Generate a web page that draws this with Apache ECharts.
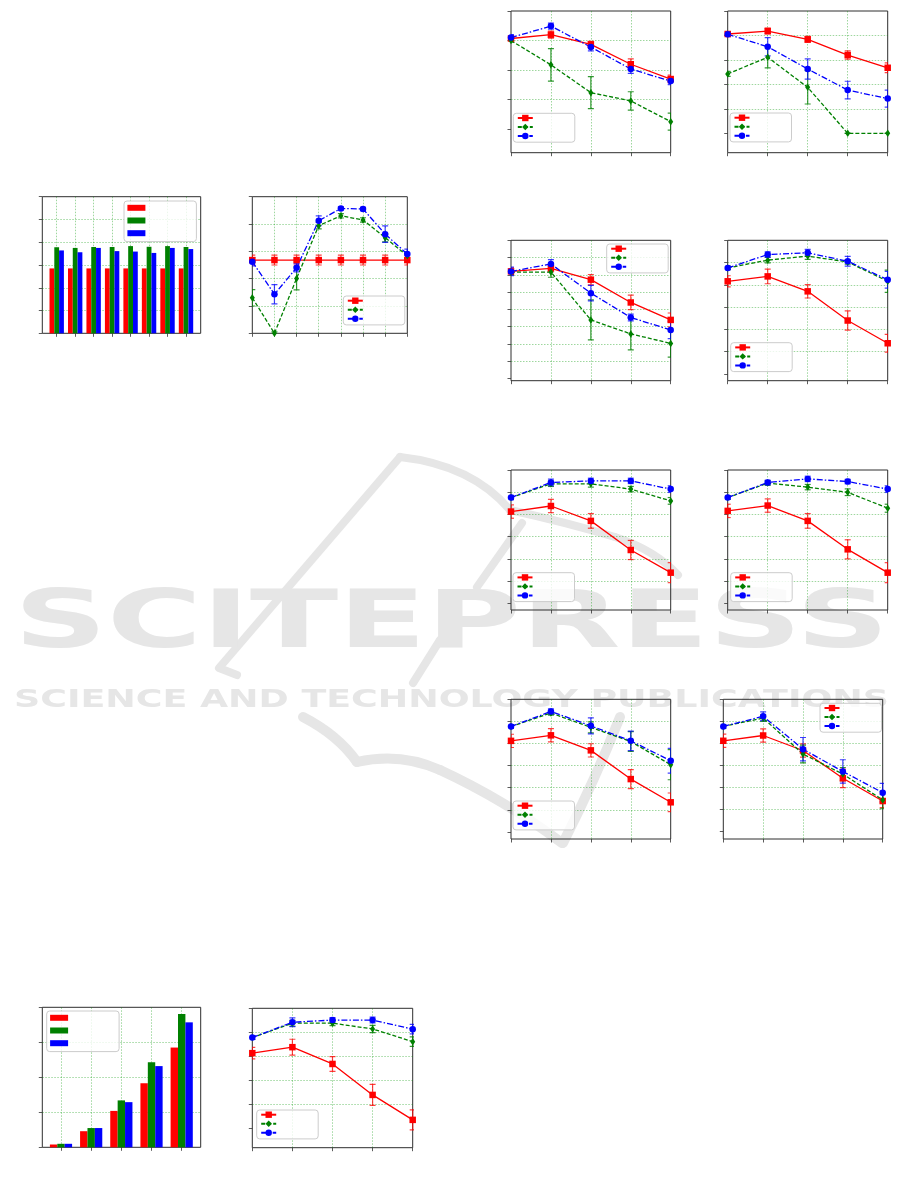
<!DOCTYPE html>
<html>
<head>
<meta charset="utf-8">
<script src="https://cdn.jsdelivr.net/npm/echarts@6/dist/echarts.min.js"></script>
<style>
  html, body { margin: 0; padding: 0; background: #ffffff; }
  #chart { width: 901px; height: 1181px; }
</style>
</head>
<body>
<div id="chart"></div>
<script>
// ---------- grouped bars: eight groups ----------
const groups8 = ['g1', 'g2', 'g3', 'g4', 'g5', 'g6', 'g7', 'g8'];
const bars8Red   = [2.85, 2.85, 2.85, 2.85, 2.85, 2.85, 2.85, 2.85];
const bars8Green = [3.78, 3.75, 3.79, 3.79, 3.83, 3.80, 3.83, 3.79];
const bars8Blue  = [3.64, 3.56, 3.75, 3.61, 3.59, 3.53, 3.75, 3.70];

// ---------- grouped bars: five groups ----------
const groups5 = ['g1', 'g2', 'g3', 'g4', 'g5'];
const bars5Red   = [0.08, 0.46, 1.04, 1.83, 2.85];
const bars5Green = [0.10, 0.55, 1.34, 2.43, 3.81];
const bars5Blue  = [0.10, 0.55, 1.29, 2.32, 3.57];

// ---------- x positions of the line panels ----------
const steps8 = [0, 1, 2, 3, 4, 5, 6, 7];
const steps5 = [0, 1, 2, 3, 4];

// ---------- y tick values ----------
const ticks0to4 = [0, 1, 2, 3, 4];
const ticks0to5 = [0, 1, 2, 3, 4, 5];
const ticks0to6 = [0, 1, 2, 3, 4, 5, 6];
const ticks0to8 = [0, 1, 2, 3, 4, 5, 6, 7, 8];

// ---------- sweep panel (eight steps) ----------
const sweepRed      = [2.68, 2.68, 2.68, 2.68, 2.68, 2.68, 2.68, 2.68];
const sweepRedErr   = [0.18, 0.18, 0.18, 0.18, 0.18, 0.18, 0.18, 0.18];
const sweepGreen    = [1.30, 0.00, 2.01, 3.94, 4.30, 4.15, 3.50, 2.84];
const sweepGreenErr = [0.30, 0.05, 0.42, 0.12, 0.08, 0.08, 0.15, 0.10];
const sweepBlue     = [2.62, 1.43, 2.40, 4.12, 4.57, 4.55, 3.63, 2.90];
const sweepBlueErr  = [0.15, 0.35, 0.15, 0.18, 0.06, 0.06, 0.30, 0.18];

// ---------- lower-left panel ----------
const lowRed      = [3.13, 3.38, 2.68, 1.39, 0.35];
const lowRedErr   = [0.24, 0.33, 0.31, 0.44, 0.42];
const lowGreen    = [3.78, 4.38, 4.38, 4.14, 3.61];
const lowGreenErr = [0.08, 0.12, 0.10, 0.15, 0.20];
const lowBlue     = [3.78, 4.42, 4.51, 4.51, 4.13];
const lowBlueErr  = [0.08, 0.18, 0.10, 0.12, 0.20];

// ---------- right column, row 1 ----------
const r1aRed      = [3.07, 3.20, 2.87, 2.20, 1.70];
const r1aRedErr   = [0.10, 0.12, 0.10, 0.18, 0.13];
const r1aGreen    = [3.00, 2.18, 1.24, 0.96, 0.26];
const r1aGreenErr = [0.05, 0.55, 0.54, 0.31, 0.29];
const r1aBlue     = [3.10, 3.49, 2.78, 2.04, 1.63];
const r1aBlueErr  = [0.10, 0.10, 0.13, 0.15, 0.12];

const r1bRed      = [4.06, 4.18, 3.84, 3.20, 2.68];
const r1bRedErr   = [0.10, 0.12, 0.12, 0.17, 0.20];
const r1bGreen    = [2.43, 3.11, 1.88, 0.00, 0.00];
const r1bGreenErr = [0.10, 0.43, 0.68, 0.00, 0.00];
const r1bBlue     = [4.05, 3.54, 2.63, 1.77, 1.42];
const r1bBlueErr  = [0.10, 0.37, 0.41, 0.36, 0.35];

// ---------- right column, row 2 ----------
const r2aRed      = [6.20, 6.38, 5.72, 4.40, 3.39];
const r2aRedErr   = [0.20, 0.20, 0.30, 0.42, 0.40];
const r2aGreen    = [6.16, 6.16, 3.39, 2.58, 2.03];
const r2aGreenErr = [0.15, 0.30, 1.16, 0.92, 0.80];
const r2aBlue     = [6.20, 6.63, 4.94, 3.53, 2.81];
const r2aBlueErr  = [0.25, 0.25, 0.45, 0.20, 0.50];

const r2bRed      = [4.16, 4.38, 3.71, 2.40, 1.38];
const r2bRedErr   = [0.25, 0.33, 0.30, 0.43, 0.40];
const r2bGreen    = [4.76, 5.11, 5.29, 5.03, 4.16];
const r2bGreenErr = [0.08, 0.12, 0.15, 0.10, 0.50];
const r2bBlue     = [4.76, 5.36, 5.44, 5.06, 4.23];
const r2bBlueErr  = [0.08, 0.12, 0.15, 0.22, 0.38];

// ---------- right column, row 3 ----------
const r3aRed      = [4.13, 4.38, 3.71, 2.40, 1.38];
const r3aRedErr   = [0.30, 0.30, 0.33, 0.43, 0.45];
const r3aGreen    = [4.76, 5.38, 5.38, 5.14, 4.61];
const r3aGreenErr = [0.08, 0.12, 0.15, 0.12, 0.15];
const r3aBlue     = [4.76, 5.44, 5.51, 5.51, 5.14];
const r3aBlueErr  = [0.10, 0.15, 0.12, 0.12, 0.15];

const r3bRed      = [4.16, 4.40, 3.71, 2.43, 1.38];
const r3bRedErr   = [0.30, 0.30, 0.33, 0.43, 0.45];
const r3bGreen    = [4.76, 5.41, 5.23, 5.00, 4.28];
const r3bGreenErr = [0.08, 0.10, 0.12, 0.15, 0.18];
const r3bBlue     = [4.76, 5.44, 5.60, 5.48, 5.14];
const r3bBlueErr  = [0.08, 0.10, 0.12, 0.10, 0.15];

// ---------- right column, row 4 ----------
const r4aRed      = [4.12, 4.37, 3.69, 2.39, 1.34];
const r4aRedErr   = [0.30, 0.30, 0.30, 0.43, 0.42];
const r4aGreen    = [4.77, 5.38, 4.73, 4.09, 3.04];
const r4aGreenErr = [0.08, 0.10, 0.25, 0.45, 0.68];
const r4aBlue     = [4.77, 5.45, 4.80, 4.12, 3.22];
const r4aBlueErr  = [0.08, 0.12, 0.36, 0.44, 0.56];

const r4bRed      = [4.12, 4.36, 3.68, 2.42, 1.39];
const r4bRedErr   = [0.30, 0.30, 0.30, 0.42, 0.30];
const r4bGreen    = [4.77, 5.15, 3.52, 2.61, 1.44];
const r4bGreenErr = [0.08, 0.15, 0.40, 0.30, 0.40];
const r4bBlue     = [4.77, 5.23, 3.74, 2.73, 1.77];
const r4bBlueErr  = [0.08, 0.20, 0.53, 0.53, 0.42];

// ================= styling =================
const RED = '#ff0000', GREEN = '#008000', BLUE = '#0000ff';
const FRAME = '#2e2e2e';
const gridLineStyle = { color: 'rgba(0,150,0,0.55)', width: 0.7, type: [1.5, 1.5] };
const tickStyle = { show: true, inside: false, length: 3.5, lineStyle: { color: '#333', width: 0.8 } };
const hiddenLine = { show: false, onZero: false };
const legendBox = {
  orient: 'vertical', selectedMode: false,
  backgroundColor: 'rgba(255,255,255,0.8)', borderColor: '#cccccc', borderWidth: 1, borderRadius: 3,
  formatter: () => '', textStyle: { fontSize: 4, lineHeight: 4 }
};

const option = {
  animation: false,
  backgroundColor: '#ffffff',
  grid: [], xAxis: [], yAxis: [], series: [], legend: [], graphic: []
};

function addGrid(r, framed) {
  option.grid.push({
    left: r[0], top: r[1], width: r[2] - r[0], height: r[3] - r[1],
    show: framed, borderColor: FRAME, borderWidth: 1, backgroundColor: 'transparent'
  });
  return option.grid.length - 1;
}

function valueY(g, yr, showAll) {
  const ax = {
    gridIndex: g, type: 'value', min: yr.min, max: yr.max,
    axisLine: hiddenLine, axisLabel: { show: false },
    axisTick: showAll ? tickStyle : { show: false },
    splitLine: showAll ? { show: true, showMinLine: false, showMaxLine: false, lineStyle: gridLineStyle } : { show: false }
  };
  if (yr.interval) {
    ax.interval = yr.interval;
  } else {
    ax.axisTick = Object.assign({}, ax.axisTick, { customValues: yr.ticks });
    ax.axisLabel = { show: false, customValues: yr.ticks };
  }
  option.yAxis.push(ax);
  return option.yAxis.length - 1;
}

// error bars with caps, placed through the panel's own axes
function errorBars(xi, yi, xs, ys, es, color) {
  return {
    type: 'custom', xAxisIndex: xi, yAxisIndex: yi, silent: true, z: 2, clip: true,
    data: xs.map((x, i) => [x, ys[i], es[i]]),
    renderItem: (params, api) => {
      const x = api.value(0), y = api.value(1), e = api.value(2);
      const hi = api.coord([x, y + e]);
      const lo = api.coord([x, y - e]);
      const cap = 3;
      const st = { stroke: color, lineWidth: 1.2 };
      return {
        type: 'group', children: [
          { type: 'line', shape: { x1: hi[0], y1: hi[1], x2: lo[0], y2: lo[1] }, style: st },
          { type: 'line', shape: { x1: hi[0] - cap, y1: hi[1], x2: hi[0] + cap, y2: hi[1] }, style: st },
          { type: 'line', shape: { x1: lo[0] - cap, y1: lo[1], x2: lo[0] + cap, y2: lo[1] }, style: st }
        ]
      };
    }
  };
}

const traceLook = [
  { color: RED,   err: 'rgba(255,0,0,0.75)',  symbol: 'rect',    size: 6.5,    dash: 'solid' },
  { color: GREEN, err: 'rgba(0,128,0,0.8)',   symbol: 'diamond', size: [5, 7.5], dash: [4, 2] },
  { color: BLUE,  err: 'rgba(0,0,255,0.75)',  symbol: 'circle',  size: 6.5,    dash: [6, 2, 1.5, 2] }
];

function linePanel(key, rect, xs, yr, traces, legPos) {
  const g = addGrid(rect, true);
  option.xAxis.push({
    gridIndex: g, type: 'value', min: xs[0], max: xs[xs.length - 1], interval: 1,
    axisLine: hiddenLine, axisTick: tickStyle, axisLabel: { show: false },
    splitLine: { show: true, showMinLine: false, showMaxLine: false, lineStyle: gridLineStyle }
  });
  const xi = option.xAxis.length - 1;
  const yi = valueY(g, yr, true);
  const names = [];
  traces.forEach((t, k) => {
    const look = traceLook[k];
    const name = key + '-' + k;
    names.push(name);
    option.series.push(errorBars(xi, yi, xs, t[0], t[1], look.err));
    option.series.push({
      type: 'line', name: name, xAxisIndex: xi, yAxisIndex: yi, z: 3, clip: true,
      data: xs.map((x, i) => [x, t[0][i]]),
      symbol: look.symbol, symbolSize: look.size, showAllSymbol: true,
      lineStyle: { color: look.color, width: 1.3, type: look.dash },
      itemStyle: { color: look.color }
    });
  });
  option.legend.push(Object.assign({}, legendBox, {
    left: legPos[0], top: legPos[1], data: names,
    itemWidth: 15, itemHeight: 8, itemGap: 2.6, padding: [1.5, 37, 3, 3.5]
  }));
}

function barPanel(key, frame, barRect, cats, yr, sets, barW, legPos) {
  const gf = addGrid(frame, true);
  option.xAxis.push({ gridIndex: gf, type: 'value', min: 0, max: 1, show: false });
  valueY(gf, yr, true);
  const gb = addGrid(barRect, false);
  option.xAxis.push({
    gridIndex: gb, type: 'category', data: cats, boundaryGap: false,
    axisLine: hiddenLine, axisTick: tickStyle, axisLabel: { show: false },
    splitLine: { show: true, lineStyle: gridLineStyle }
  });
  const xi = option.xAxis.length - 1;
  const yi = valueY(gb, yr, false);
  const colors = [RED, GREEN, BLUE];
  const names = [];
  sets.forEach((vals, k) => {
    const name = key + '-' + k;
    names.push(name);
    option.series.push({
      type: 'bar', name: name, xAxisIndex: xi, yAxisIndex: yi, data: vals,
      barWidth: barW, barGap: '0%', clip: false, itemStyle: { color: colors[k] }
    });
  });
  option.legend.push(Object.assign({}, legendBox, {
    left: legPos[0], top: legPos[1], data: names, icon: 'rect',
    itemWidth: 18, itemHeight: 6, itemGap: 6.7, padding: [3.8, 46, 5.4, 3.4]
  }));
}

// ---------- left column ----------
barPanel('bars8', [42.3, 196.7, 200.7, 333.3], [56.7, 196.7, 186.0, 333.3], groups8,
  { min: 0, max: 6, interval: 1 }, [bars8Red, bars8Green, bars8Blue], 4.8, [124, 201]);

linePanel('sweep', [252.3, 196.7, 407.3, 333.3], steps8, { min: 0, max: 5, interval: 1 },
  [[sweepRed, sweepRedErr], [sweepGreen, sweepGreenErr], [sweepBlue, sweepBlueErr]], [343.3, 296]);

barPanel('bars5', [42.3, 1007.3, 200.7, 1147.3], [61.0, 1007.3, 181.7, 1147.3], groups5,
  { min: 0, max: 4, interval: 1 }, [bars5Red, bars5Green, bars5Blue], 7.4, [46.7, 1011]);

linePanel('low', [252.3, 1008.3, 412.7, 1147.7], steps5, { min: -0.81, max: 5, ticks: ticks0to5 },
  [[lowRed, lowRedErr], [lowGreen, lowGreenErr], [lowBlue, lowBlueErr]], [256.7, 1110]);

// ---------- right column ----------
linePanel('r1a', [511, 11, 670.7, 152.7], steps5, { min: -0.79, max: 4, ticks: ticks0to4 },
  [[r1aRed, r1aRedErr], [r1aGreen, r1aGreenErr], [r1aBlue, r1aBlueErr]], [513.3, 113.3]);
linePanel('r1b', [727.7, 11, 887.7, 152.7], steps5, { min: -0.79, max: 5, ticks: ticks0to5 },
  [[r1bRed, r1bRedErr], [r1bGreen, r1bGreenErr], [r1bBlue, r1bBlueErr]], [730, 113]);

linePanel('r2a', [511, 240.3, 670.7, 380.7], steps5, { min: -0.13, max: 8, ticks: ticks0to8 },
  [[r2aRed, r2aRedErr], [r2aGreen, r2aGreenErr], [r2aBlue, r2aBlueErr]], [606.7, 244]);
linePanel('r2b', [727.7, 240.3, 887.7, 380.7], steps5, { min: -0.3, max: 6, ticks: ticks0to6 },
  [[r2bRed, r2bRedErr], [r2bGreen, r2bGreenErr], [r2bBlue, r2bBlueErr]], [730.7, 342.7]);

linePanel('r3a', [511, 470, 670.7, 610], steps5, { min: -0.3, max: 6, ticks: ticks0to6 },
  [[r3aRed, r3aRedErr], [r3aGreen, r3aGreenErr], [r3aBlue, r3aBlueErr]], [513, 572.7]);
linePanel('r3b', [727.7, 470, 887.7, 610], steps5, { min: -0.3, max: 6, ticks: ticks0to6 },
  [[r3bRed, r3bRedErr], [r3bGreen, r3bGreenErr], [r3bBlue, r3bBlueErr]], [730.7, 572.7]);

linePanel('r4a', [511, 699.3, 670.7, 839], steps5, { min: -0.32, max: 6, ticks: ticks0to6 },
  [[r4aRed, r4aRedErr], [r4aGreen, r4aGreenErr], [r4aBlue, r4aBlueErr]], [513, 801]);
linePanel('r4b', [723.3, 699.3, 882.7, 839], steps5, { min: -0.33, max: 6, ticks: ticks0to6 },
  [[r4bRed, r4bRedErr], [r4bGreen, r4bGreenErr], [r4bBlue, r4bBlueErr]], [820, 703.3]);

// ---------- publisher watermark ----------
const MARK = '#e6e6e6';
function stretch(text, font, width) {
  const ctx = document.createElement('canvas').getContext('2d');
  ctx.font = font;
  return width / ctx.measureText(text).width;
}
const bigFont = 'bold 80px "DejaVu Sans"';
const smallFont = 'bold 24px "DejaVu Sans"';
const bigText = 'SCITEPRESS';
const smallText = 'SCIENCE AND TECHNOLOGY PUBLICATIONS';
const logoStroke = { stroke: MARK, lineWidth: 8, fill: null, lineCap: 'round', lineJoin: 'round' };
function curve(p0, c, p1, w) {
  return { type: 'bezierCurve', z: -1, silent: true,
    shape: { x1: p0[0], y1: p0[1], cpx1: c[0], cpy1: c[1], x2: p1[0], y2: p1[1] },
    style: Object.assign({}, logoStroke, w ? { lineWidth: w } : {}) };
}
option.graphic = [
  { type: 'polyline', z: -1, silent: true, shape: { points: [[400, 457], [219, 668], [237, 675]] }, style: logoStroke },
  curve([400, 457], [472, 465], [510, 510]),
  curve([510, 510], [565, 522], [615, 537]),
  curve([615, 537], [655, 550], [678, 575]),
  { type: 'line', z: -1, silent: true, shape: { x1: 477, y1: 587, x2: 522, y2: 523 }, style: logoStroke },
  { type: 'line', z: -1, silent: true, shape: { x1: 440, y1: 640, x2: 413, y2: 683 }, style: logoStroke },
  curve([303, 717], [338, 735], [357, 762], 10),
  curve([357, 762], [400, 752], [440, 770], 10),
  curve([440, 770], [505, 800], [562, 843], 10),
  curve([620, 717], [595, 780], [563, 843], 10),
  {
    type: 'text', z: -1, silent: true, x: 14, y: 626, scaleX: stretch(bigText, bigFont, 875),
    style: { text: bigText, font: bigFont, fill: MARK, align: 'left', verticalAlign: 'middle' }
  },
  {
    type: 'text', z: -1, silent: true, x: 14, y: 700.5, scaleX: stretch(smallText, smallFont, 875),
    style: { text: smallText, font: smallFont, fill: MARK, align: 'left', verticalAlign: 'middle' }
  }
];

const chart = echarts.init(document.getElementById('chart'), null, { renderer: 'canvas' });
chart.setOption(option);
</script>
</body>
</html>
